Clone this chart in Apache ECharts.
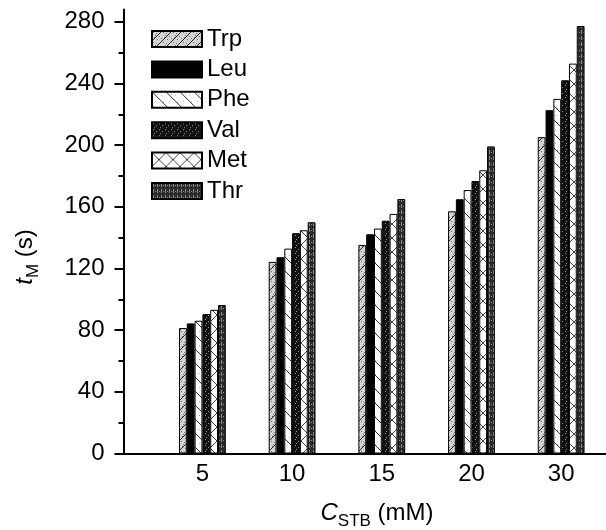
<!DOCTYPE html>
<html>
<head>
<meta charset="utf-8">
<script src="https://cdn.jsdelivr.net/npm/echarts@6/dist/echarts.min.js"></script>
<style>
  html, body { margin: 0; padding: 0; background: #fff; }
  #chart { width: 606px; height: 530px; }
</style>
</head>
<body>
<div id="chart"></div>
<script>
// STB concentration groups (mM) and amino-acid series, t_M in seconds
const categories = ['5', '10', '15', '20', '30'];
const seriesNames = ['Trp', 'Leu', 'Phe', 'Val', 'Met', 'Thr'];
const trp = [81.4, 124.3, 135.3, 157.1, 205.2];
const leu = [84.4, 127.3, 142.2, 164.9, 222.7];
const phe = [86.1, 132.9, 145.9, 170.9, 230.0];
const val = [90.4, 142.9, 151.0, 176.7, 242.1];
const met = [93.2, 144.8, 155.4, 183.7, 252.9];
const thr = [96.3, 150.0, 165.1, 199.2, 277.3];
const yTicks = [0, 40, 80, 120, 160, 200, 240, 280];
const yMinorTicks = [20, 60, 100, 140, 180, 220, 260];

const FONT = 'Liberation Sans, Arial, sans-serif';
const FS = 24;

// ---- fill patterns drawn on small canvases ----
function tile(w, h, draw) {
  const c = document.createElement('canvas');
  c.width = w; c.height = h;
  draw(c.getContext('2d'), w, h);
  return { image: c, repeat: 'repeat' };
}
function dots(ctx, pts, color) {
  ctx.fillStyle = color;
  pts.forEach(p => ctx.fillRect(p[0], p[1], 1, 1));
}
const patTrp = tile(10, 10, (ctx, w, h) => {
  ctx.fillStyle = '#d4d4d4'; ctx.fillRect(0, 0, w, h);
  dots(ctx, [[1,1],[4,2],[7,5],[2,6],[5,8],[8,1],[3,4],[9,7]], '#707070');
  ctx.strokeStyle = '#222'; ctx.lineWidth = 1;
  ctx.beginPath();
  ctx.moveTo(-1, h + 1); ctx.lineTo(w + 1, -1);
  ctx.moveTo(-1, 1); ctx.lineTo(1, -1);
  ctx.moveTo(w - 1, h + 1); ctx.lineTo(w + 1, h - 1);
  ctx.stroke();
});
const patPhe = tile(14, 14, (ctx, w, h) => {
  ctx.fillStyle = '#fff'; ctx.fillRect(0, 0, w, h);
  dots(ctx, [[3,9],[9,3],[11,10],[5,2]], '#b0b0b0');
  ctx.strokeStyle = '#333'; ctx.lineWidth = 1;
  ctx.beginPath();
  ctx.moveTo(-1, -1); ctx.lineTo(w + 1, h + 1);
  ctx.stroke();
});
const patVal = tile(6, 6, (ctx, w, h) => {
  ctx.fillStyle = '#111'; ctx.fillRect(0, 0, w, h);
  dots(ctx, [[1,1],[4,3],[2,5]], '#9a9a9a');
});
const patMet = tile(14, 14, (ctx, w, h) => {
  ctx.fillStyle = '#fff'; ctx.fillRect(0, 0, w, h);
  ctx.strokeStyle = '#444'; ctx.lineWidth = 1;
  ctx.beginPath();
  ctx.moveTo(-1, -1); ctx.lineTo(w + 1, h + 1);
  ctx.moveTo(-1, h + 1); ctx.lineTo(w + 1, -1);
  ctx.stroke();
});
const patThr = tile(4, 6, (ctx, w, h) => {
  ctx.fillStyle = '#2a2a2a'; ctx.fillRect(0, 0, w, h);
  ctx.fillStyle = '#8c8c8c';
  ctx.fillRect(1, 0, 1, 4);
  ctx.fillRect(3, 2, 1, 1);
});
const fills = [patTrp, '#000', patPhe, patVal, patMet, patThr];
const values = [trp, leu, phe, val, met, thr];

const series = seriesNames.map((name, i) => ({
  name,
  type: 'bar',
  xAxisIndex: 0,
  yAxisIndex: 0,
  barWidth: 7.8,
  barGap: '0%',
  itemStyle: { color: fills[i], borderColor: '#000', borderWidth: 1 },
  data: values[i].map((v, k) => [k + 1, v])
}));

const titleRich = {
  it: { fontFamily: FONT, fontSize: FS, fontStyle: 'italic', fill: '#000', color: '#000' },
  n: { fontFamily: FONT, fontSize: FS, fill: '#000', color: '#000' },
  sub: { fontFamily: FONT, fontSize: 17, fill: '#000', color: '#000', padding: [16, 0, 0, 0] }
};

const chart = echarts.init(document.getElementById('chart'), null, { renderer: 'canvas' });
chart.setOption({
  animation: false,
  backgroundColor: '#fff',
  grid: { left: 123.5, right: 0, top: 9.5, bottom: 76.5, outerBoundsMode: 'none', containLabel: false },
  legend: {
    data: seriesNames,
    orient: 'vertical',
    left: 146,
    top: 22,
    icon: 'rect',
    itemWidth: 50,
    itemHeight: 16,
    itemGap: 6.4,
    selectedMode: false,
    textStyle: { fontFamily: FONT, fontSize: FS, color: '#000' }
  },
  xAxis: {
    type: 'value',
    min: 0.12,
    max: 5.5,
    splitLine: { show: false },
    axisTick: { show: false },
    axisLine: { lineStyle: { color: '#000', width: 2 } },
    axisLabel: {
      customValues: [1, 2, 3, 4, 5],
      formatter: v => categories[Math.round(v) - 1],
      margin: 9,
      fontFamily: FONT, fontSize: FS, color: '#000'
    }
  },
  yAxis: [
    {
      type: 'value',
      min: 0,
      max: 288,
      splitLine: { show: false },
      axisLine: { show: true, lineStyle: { color: '#000', width: 2 } },
      axisTick: { show: true, customValues: yTicks, length: 9, lineStyle: { color: '#000', width: 2 } },
      axisLabel: { customValues: yTicks, margin: 19, fontFamily: FONT, fontSize: FS, color: '#000' }
    },
    {
      type: 'value',
      position: 'left',
      min: 0,
      max: 288,
      splitLine: { show: false },
      axisLine: { show: false },
      axisTick: { show: true, customValues: yMinorTicks, length: 5, lineStyle: { color: '#000', width: 2 } },
      axisLabel: { show: false }
    }
  ],
  graphic: [
    {
      type: 'text',
      x: 377, y: 513,
      style: {
        text: '{it|C}{sub|STB}{n| (mM)}',
        rich: titleRich,
        align: 'center',
        verticalAlign: 'middle'
      }
    },
    {
      type: 'text',
      x: 25, y: 257,
      rotation: Math.PI / 2,
      style: {
        text: '{it|t}{sub|M}{n| (s)}',
        rich: titleRich,
        align: 'center',
        verticalAlign: 'middle'
      }
    }
  ],
  series
});
</script>
</body>
</html>
